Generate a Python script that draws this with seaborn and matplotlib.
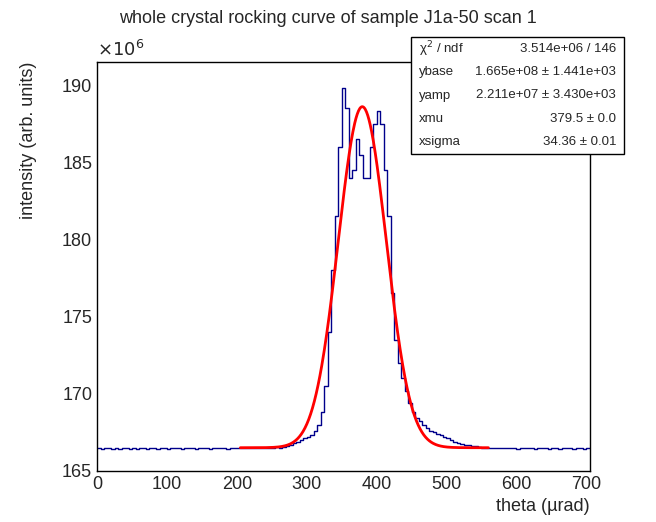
import numpy as np
import pandas as pd
import matplotlib
matplotlib.use("Agg")
import matplotlib.pyplot as plt
from matplotlib.ticker import MultipleLocator
import seaborn as sns

sns.set_style("white")
plt.rcParams['font.family'] = ['Liberation Sans', 'DejaVu Sans']

bin_width = 5
# intensity per 5-urad bin, units of 1e6, starting at theta = 0
baseline_left = [166.45, 166.4, 166.45, 166.5, 166.4, 166.45, 166.4, 166.5, 166.45, 166.4,
                 166.45, 166.4, 166.5, 166.45, 166.4, 166.45, 166.5, 166.4, 166.45, 166.45,
                 166.4, 166.45, 166.5, 166.45, 166.4, 166.45, 166.5, 166.45, 166.4, 166.45,
                 166.45, 166.5, 166.4, 166.45, 166.45, 166.5, 166.45, 166.4, 166.45, 166.5,
                 166.45, 166.45, 166.5, 166.45, 166.5, 166.45, 166.5, 166.5, 166.45, 166.5,
                 166.5, 166.55, 166.5, 166.55]
peak = [166.6, 166.7, 166.8, 166.9, 167.0, 167.1, 167.2, 167.3, 167.6, 168.0,
        168.8, 170.5, 174.0, 178.0, 181.5, 186.0, 189.8, 188.5, 184.0, 184.5,
        186.5, 185.5, 184.0, 184.0, 186.0, 187.5, 188.3, 187.5, 184.5, 181.5,
        176.5, 173.5, 172.0, 171.0, 170.2, 169.4, 168.8, 168.4, 168.2, 168.0,
        167.8, 167.6, 167.5, 167.4, 167.3, 167.2, 167.1, 167.0, 166.9, 166.8,
        166.75, 166.7, 166.65, 166.6, 166.6, 166.55]
baseline_right = [166.5, 166.5, 166.45, 166.5, 166.45, 166.5, 166.45, 166.45, 166.5, 166.45,
                  166.4, 166.45, 166.5, 166.45, 166.45, 166.4, 166.45, 166.5, 166.45, 166.4,
                  166.45, 166.45, 166.4, 166.45, 166.5, 166.45, 166.4, 166.45, 166.45, 166.4,
                  166.45]
values = np.array(baseline_left + peak + baseline_right)
edges = [float(e) for e in np.arange(len(values) + 1) * bin_width]
centers = np.array(edges[:-1]) + bin_width / 2
df = pd.DataFrame({"theta": centers, "intensity": values})

# fit parameters from stats box
ybase, yamp, xmu, xsigma = 166.5, 22.11, 379.5, 34.36
fit_lo, fit_hi = 205, 560

fig = plt.figure(figsize=(6.56, 5.22), dpi=100)
ax = fig.add_axes([0.148, 0.098, 0.751, 0.783])
sns.histplot(data=df, x="theta", weights="intensity", bins=edges, element="step", fill=False,
             color="#00008b", linewidth=1.0, ax=ax)
xf = np.linspace(fit_lo, fit_hi, 400)
yf = ybase + yamp * np.exp(-0.5 * ((xf - xmu) / xsigma) ** 2)
sns.lineplot(x=xf, y=yf, color="red", linewidth=2, ax=ax)

ax.set_xlim(0, 705)
ax.set_ylim(165.0, 191.5)
ax.xaxis.set_major_locator(MultipleLocator(100))
ax.xaxis.set_minor_locator(MultipleLocator(20))
ax.yaxis.set_major_locator(MultipleLocator(5))
ax.yaxis.set_minor_locator(MultipleLocator(1))
ax.tick_params(which="both", direction="in", top=False, right=False, labelsize=13)
ax.tick_params(which="major", length=10)
ax.tick_params(which="minor", length=5)
for s in ax.spines.values():
    s.set_color("black"); s.set_linewidth(1)
ax.set_xlabel("theta (µrad)", fontsize=13, loc="right")
ax.set_ylabel("intensity (arb. units)", fontsize=13, loc="top", labelpad=18)
ax.text(0.0, 1.005, r"$\times10^{6}$", transform=ax.transAxes, fontsize=13, va="bottom")
fig.text(0.5, 0.965, "whole crystal rocking curve of sample J1a-50 scan 1",
         ha="center", va="center", fontsize=13)

# stats box
bx0, by0, bw, bh = 411/656, 1-154/522, 213/656, 117/522
fig.patches.append(plt.Rectangle((bx0, by0), bw, bh, transform=fig.transFigure,
                                 fc="white", ec="black", lw=1, zorder=5))
rows = [(r"χ$^{2}$ / ndf", "3.514e+06 / 146"),
        ("ybase", "1.665e+08 ± 1.441e+03"),
        ("yamp", "2.211e+07 ± 3.430e+03"),
        ("xmu", "379.5 ± 0.0"),
        ("xsigma", "34.36 ± 0.01")]
for i, (k, v) in enumerate(rows):
    yy = by0 + bh - (i + 0.5) * bh / 5
    fig.text(bx0 + 0.012, yy, k, fontsize=9.5, va="center", zorder=6)
    fig.text(bx0 + bw - 0.012, yy, v, fontsize=9.5, va="center", ha="right", zorder=6)

fig.savefig("out.png", dpi=100)
